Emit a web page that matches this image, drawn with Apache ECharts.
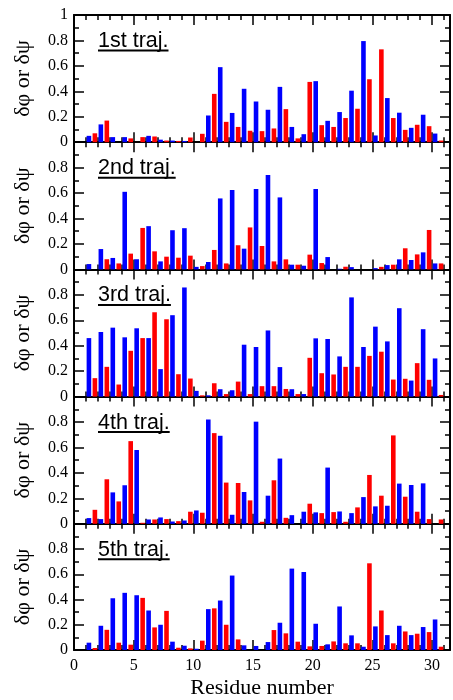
<!DOCTYPE html>
<html>
<head>
<meta charset="utf-8">
<script src="https://cdn.jsdelivr.net/npm/echarts@6/dist/echarts.min.js"></script>
<style>
html, body { margin: 0; padding: 0; background: #fff; }
#chart { width: 453px; height: 700px; }
</style>
</head>
<body>
<div id="chart"></div>
<script>
// residue numbers 1..31
var residues = [1, 2, 3, 4, 5, 6, 7, 8, 9, 10, 11, 12, 13, 14, 15, 16, 17, 18, 19, 20,
	21, 22, 23, 24, 25, 26, 27, 28, 29, 30, 31];
var panelNames = ['1st traj.', '2nd traj.', '3rd traj.', '4th traj.', '5th traj.'];

// red = dphi, blue = dpsi
var phi1 = [0, 0.07, 0.17, 0, 0.03, 0.04, 0.045, 0.013, 0.01, 0.037, 0.066, 0.38, 0.16, 0.12, 0.09, 0.087,
	0.108, 0.26, 0.03, 0.474, 0.134, 0.12, 0.19, 0.263, 0.495, 0.73, 0.19, 0.097, 0.137, 0.126, 0.013];
var psi1 = [0.05, 0.14, 0.04, 0.04, 0, 0.05, 0.02, 0.013, 0.01, 0, 0.21, 0.59, 0.23, 0.42, 0.32, 0.255,
	0.435, 0.12, 0.063, 0.48, 0.168, 0.237, 0.405, 0.795, 0.053, 0.347, 0.232, 0.113, 0.216, 0.068, 0];

var phi2 = [0, 0, 0.08, 0.047, 0.124, 0.326, 0.142, 0.1, 0.092, 0.108, 0.026, 0.153, 0.047, 0.19, 0.33, 0.184,
	0.063, 0.079, 0.037, 0.116, 0.05, 0, 0.021, 0, 0, 0.02, 0.037, 0.166, 0.118, 0.31, 0.047];
var psi2 = [0.042, 0.16, 0.09, 0.61, 0.08, 0.34, 0.063, 0.308, 0.324, 0.02, 0.058, 0.558, 0.624, 0.163, 0.632, 0.742,
	0.566, 0.037, 0.029, 0.632, 0.097, 0.005, 0.018, 0, 0.01, 0.034, 0.079, 0.074, 0.134, 0.047, 0];

var phi3 = [0, 0.145, 0.234, 0.095, 0.36, 0.46, 0.663, 0.608, 0.176, 0.142, 0.01, 0.105, 0.02, 0.118, 0.02, 0.082,
	0.082, 0.06, 0.02, 0.305, 0.184, 0.174, 0.234, 0.234, 0.32, 0.353, 0.134, 0.14, 0.263, 0.132, 0.013];
var psi3 = [0.46, 0.508, 0.542, 0.466, 0.537, 0.46, 0.216, 0.64, 0.858, 0.045, 0.01, 0.058, 0.05, 0.408, 0.39, 0.52,
	0.232, 0.058, 0.02, 0.458, 0.453, 0.316, 0.78, 0.39, 0.55, 0.434, 0.695, 0.126, 0.53, 0.3, 0];

var phi4 = [0, 0.11, 0.35, 0.176, 0.65, 0.008, 0.034, 0.037, 0.021, 0.095, 0.087, 0.713, 0.324, 0.321, 0.184, 0.016,
	0.342, 0.047, 0, 0.158, 0.084, 0.092, 0.016, 0.129, 0.384, 0.221, 0.695, 0.213, 0.095, 0.037, 0.034];
var psi4 = [0.045, 0.037, 0.247, 0.303, 0.58, 0.034, 0.05, 0.018, 0.026, 0.105, 0.82, 0.692, 0.071, 0.25, 0.803, 0.221,
	0.513, 0.068, 0.095, 0.09, 0.442, 0.097, 0.084, 0.21, 0.137, 0.142, 0.316, 0.305, 0.318, 0, 0];

var phi5 = [0, 0.016, 0.16, 0.058, 0.042, 0.413, 0.179, 0.31, 0.018, 0.013, 0.074, 0.33, 0.2, 0.084, 0, 0,
	0.158, 0.132, 0.066, 0.029, 0.032, 0.068, 0.053, 0.053, 0.687, 0.313, 0.053, 0.147, 0.129, 0.142, 0.026];
var psi5 = [0.058, 0.192, 0.41, 0.453, 0.434, 0.313, 0.2, 0.066, 0.034, 0.01, 0.324, 0.392, 0.59, 0.037, 0.032, 0.063,
	0.216, 0.645, 0.618, 0.208, 0.045, 0.345, 0.116, 0.026, 0.187, 0.118, 0.192, 0.118, 0.182, 0.242, 0];

var phiList = [phi1, phi2, phi3, phi4, phi5];
var psiList = [psi1, psi2, psi3, psi4, psi5];

var serif = 'Liberation Serif';
var firstTop = 15;
var gridH = 127.2;
var gridLeft = 74;

function measure(text, font) {
	var ctx = document.createElement('canvas').getContext('2d');
	ctx.font = font;
	return ctx.measureText(text).width;
}

var grids = [], xAxes = [], yAxes = [], series = [], graphics = [];

for (var i = 0; i < 5; i++) {
	var panelTop = firstTop + gridH * i;
	var last = (i == 4);
	grids.push({left: gridLeft, right: 3, top: panelTop, height: gridH});

	// major and minor x ticks, bottom and top
	['bottom', 'top'].forEach(function(pos) {
		xAxes.push({
			gridIndex: i, type: 'value', position: pos,
			min: 0, max: 31.5, interval: 5,
			axisLine: {show: true, onZero: false, lineStyle: {color: '#000', width: 2}},
			axisTick: {show: true, inside: true, length: 10, lineStyle: {color: '#000', width: 1.5}},
			axisLabel: {show: last && pos == 'bottom', showMaxLabel: false, color: '#000',
				fontFamily: serif, fontSize: 16, margin: 8},
			splitLine: {show: false},
			name: (last && pos == 'bottom') ? 'Residue number' : '',
			nameLocation: 'middle', nameGap: 27,
			nameTextStyle: {color: '#000', fontFamily: serif, fontSize: 22}
		});
		xAxes.push({
			gridIndex: i, type: 'value', position: pos,
			min: 0, max: 31.5, interval: 1,
			axisLine: {show: false, onZero: false},
			axisTick: {show: true, inside: true, length: 5, lineStyle: {color: '#000', width: 1.5}},
			axisLabel: {show: false},
			splitLine: {show: false}
		});
	});

	['left', 'right'].forEach(function(pos) {
		yAxes.push({
			gridIndex: i, type: 'value', position: pos,
			min: 0, max: 1, interval: 0.2,
			axisLine: {show: true, onZero: false, lineStyle: {color: '#000', width: 2}},
			axisTick: {show: true, inside: true, length: 10, lineStyle: {color: '#000', width: 1.5}},
			minorTick: {show: true, splitNumber: 2, length: 5, lineStyle: {color: '#000', width: 1.5}},
			axisLabel: {show: pos == 'left', showMaxLabel: i == 0, color: '#000',
				fontFamily: serif, fontSize: 16, margin: 6},
			splitLine: {show: false},
			name: pos == 'left' ? 'δφ or δψ' : '',
			nameLocation: 'middle', nameGap: 40,
			nameTextStyle: {color: '#000', fontFamily: serif, fontSize: 22}
		});
	});

	series.push({
		type: 'bar', xAxisIndex: 4 * i, yAxisIndex: 2 * i,
		barWidth: 4.6, barGap: '-100%',
		itemStyle: {color: '#ff0000'},
		data: residues.map(function(r, k) { return [r - 0.25, phiList[i][k]]; })
	});
	series.push({
		type: 'bar', xAxisIndex: 4 * i, yAxisIndex: 2 * i,
		barWidth: 4.6, barGap: '-100%',
		itemStyle: {color: '#0000ff'},
		data: residues.map(function(r, k) { return [r + 0.25, psiList[i][k]]; })
	});

	// panel label with underline
	var font = '21.5px "Liberation Sans"';
	var base = panelTop + 33.5;
	var w = measure(panelNames[i], font);
	graphics.push({
		type: 'text', x: 98, y: base - 7.5,
		style: {text: panelNames[i], font: font, fill: '#000', verticalAlign: 'middle'}
	});
	graphics.push({
		type: 'line', shape: {x1: 98, y1: base + 2, x2: 98 + w, y2: base + 2},
		style: {stroke: '#000', lineWidth: 2}
	});
}

var myChart = echarts.init(document.getElementById('chart'));
var option = {
	animation: false,
	backgroundColor: '#fff',
	grid: grids,
	xAxis: xAxes,
	yAxis: yAxes,
	series: series,
	graphic: graphics
};
myChart.setOption(option);
</script>
</body>
</html>
